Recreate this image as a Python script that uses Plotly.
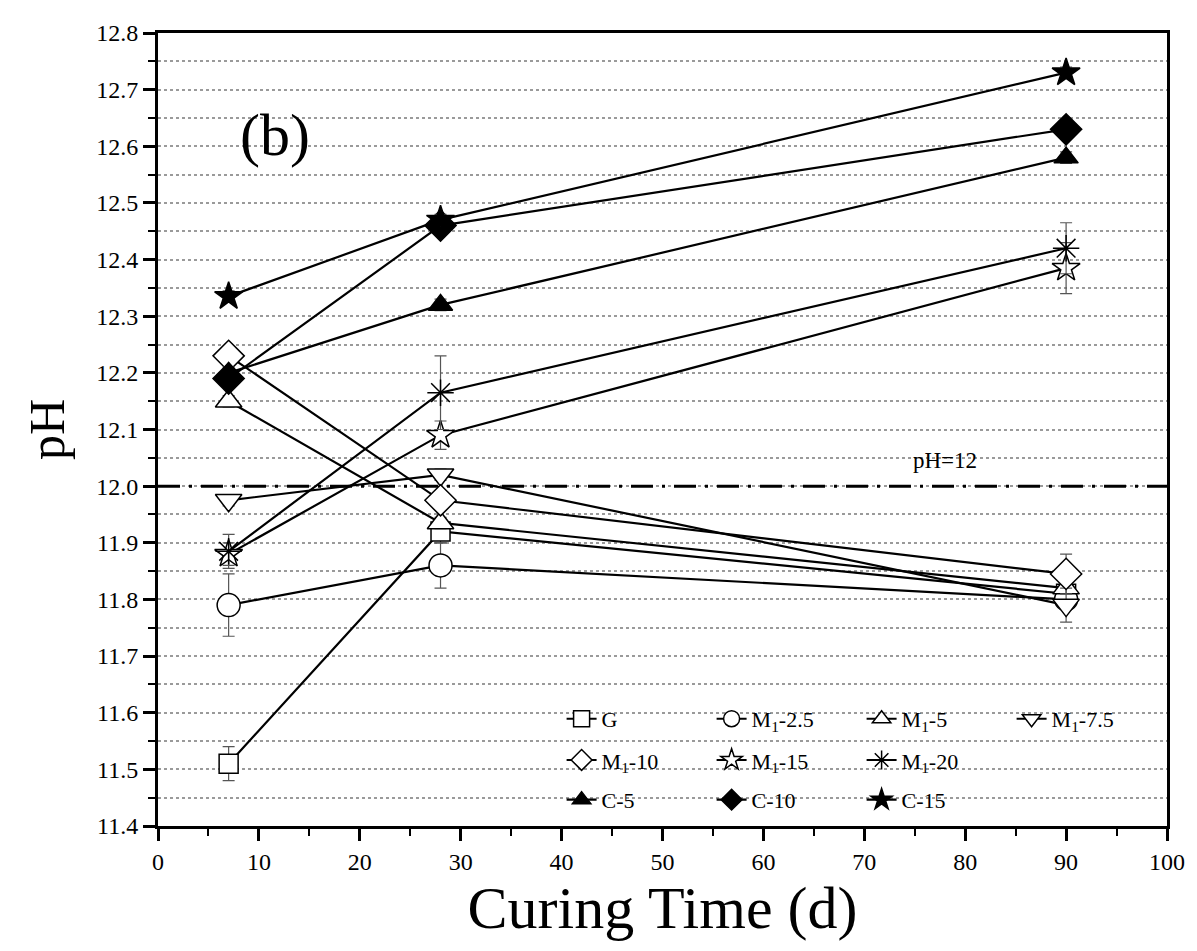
import plotly.graph_objects as go

days = [7, 28, 90]

names = ["G", "M<sub>1</sub>-2.5", "M<sub>1</sub>-5", "M<sub>1</sub>-7.5",
         "M<sub>1</sub>-10", "M<sub>1</sub>-15", "M<sub>1</sub>-20",
         "C-5", "C-10", "C-15"]

ph_G = [11.51, 11.92, 11.81]
ph_M25 = [11.79, 11.86, 11.80]
ph_M5 = [12.15, 11.935, 11.82]
ph_M75 = [11.975, 12.02, 11.79]
ph_M10 = [12.23, 11.975, 11.845]
ph_M15 = [11.88, 12.09, 12.385]
ph_M20 = [11.885, 12.165, 12.42]
ph_C5 = [12.20, 12.32, 12.58]
ph_C10 = [12.19, 12.46, 12.63]
ph_C15 = [12.335, 12.47, 12.73]

err_G = [0.03, 0.02, 0.01]
err_M25 = [0.055, 0.04, 0.01]
err_M5 = [0.01, 0.01, 0.01]
err_M75 = [0.01, 0.01, 0.03]
err_M10 = [0.01, 0.01, 0.035]
err_M15 = [0.02, 0.025, 0.045]
err_M20 = [0.03, 0.065, 0.045]
err_C5 = [0.01, 0.01, 0.01]
err_C10 = [0.01, 0.01, 0.01]
err_C15 = [0.01, 0.01, 0.01]

series = [ph_G, ph_M25, ph_M5, ph_M75, ph_M10, ph_M15, ph_M20, ph_C5, ph_C10, ph_C15]
errors = [err_G, err_M25, err_M5, err_M75, err_M10, err_M15, err_M20, err_C5, err_C10, err_C15]
symbols = ["square", "circle", "triangle-up", "triangle-down", "diamond",
           "star", "asterisk-open", "triangle-up", "diamond", "star"]
fills = ["white"] * 6 + ["black"] * 4
sizes = [19, 23, 23, 23, 24, 21, 22, 21, 24, 21]
legend_ids = ["legend"] * 4 + ["legend2"] * 3 + ["legend3"] * 3

fig = go.Figure()
for name, y, e, sym, fc, sz, lg in zip(names, series, errors, symbols, fills, sizes, legend_ids):
    fig.add_trace(go.Scatter(
        x=days, y=y, name=name, mode="lines+markers",
        line=dict(color="black", width=2.2),
        marker=dict(symbol=sym, size=sz, color=fc,
                    line=dict(color="black", width=1.5)),
        error_y=dict(type="data", array=e, visible=True, color="#555555",
                     thickness=1.2, width=6),
        legend=lg,
    ))

font_family = "Liberation Serif"

fig.add_shape(type="line", xref="paper", x0=0, x1=1, yref="y", y0=12.0, y1=12.0,
              line=dict(color="black", width=3, dash="22px,9px,3px,9px"))

fig.add_annotation(x=78, y=12.045, xref="x", yref="y", text="pH=12", showarrow=False,
                   font=dict(family=font_family, size=23, color="black"))
fig.add_annotation(x=11.6, y=12.62, xref="x", yref="y", text="(b)", showarrow=False,
                   font=dict(family=font_family, size=60, color="black"))

leg_common = dict(orientation="h", xanchor="left", yanchor="middle",
                  bgcolor="rgba(0,0,0,0)", borderwidth=0,
                  font=dict(family=font_family, size=22, color="black"),
                  itemwidth=30, entrywidth=105, tracegroupgap=0)

fig.update_layout(
    width=1197, height=951,
    margin=dict(l=150, r=38, t=20, b=133),
    paper_bgcolor="white", plot_bgcolor="white",
    font=dict(family=font_family, color="black"),
    showlegend=True,
    legend=dict(x=0.40, y=0.135, **leg_common),
    legend2=dict(x=0.40, y=0.083, **leg_common),
    legend3=dict(x=0.40, y=0.033, **leg_common),
    xaxis=dict(
        range=[0, 100], dtick=10, tick0=0,
        showline=True, linecolor="black", linewidth=3, mirror=True,
        ticks="outside", ticklen=12, tickwidth=2.5, tickcolor="black",
        minor=dict(dtick=5, ticks="outside", ticklen=7, tickwidth=2, tickcolor="black"),
        showgrid=False, zeroline=False,
        tickfont=dict(family=font_family, size=24),
        title=dict(text="Curing Time (d)", font=dict(family=font_family, size=60), standoff=6),
    ),
    yaxis=dict(
        range=[11.4, 12.8], dtick=0.1, tick0=11.4, tickformat=".1f",
        showline=True, linecolor="black", linewidth=3, mirror=True,
        ticks="outside", ticklen=12, tickwidth=2.5, tickcolor="black",
        showgrid=True, gridcolor="#9a9a9a", griddash="dot", gridwidth=1.5,
        minor=dict(dtick=0.05, ticks="outside", ticklen=7, tickwidth=2, tickcolor="black",
                   showgrid=True, gridcolor="#9a9a9a", griddash="dot", gridwidth=1.5),
        zeroline=False,
        tickfont=dict(family=font_family, size=24),
        title=dict(text="pH", font=dict(family=font_family, size=50), standoff=16),
    ),
)

fig.write_html("out.html")
